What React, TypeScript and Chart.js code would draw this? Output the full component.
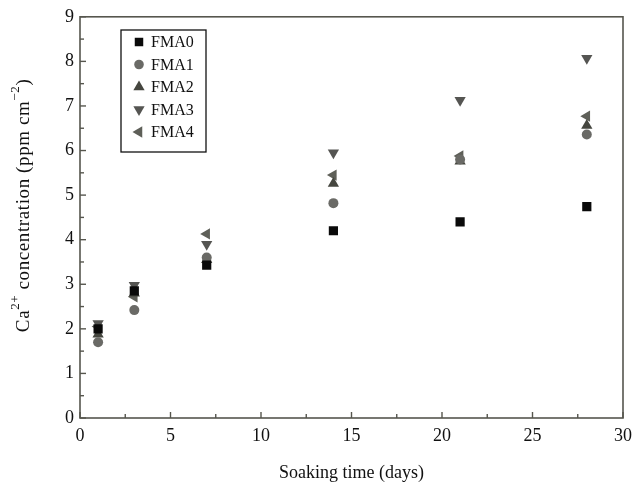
import React, { useEffect, useRef } from "react";
import { Chart, registerables } from "chart.js";

Chart.register(...registerables);

const days = [1, 3, 7, 14, 21, 28];
const fma0 = [2.0, 2.85, 3.43, 4.2, 4.4, 4.74];
const fma1 = [1.7, 2.42, 3.6, 4.82, 5.8, 6.36];
const fma2 = [1.88, 2.8, 3.55, 5.26, 5.76, 6.56];
const fma3 = [2.12, 2.98, 3.9, 5.95, 7.13, 8.07];
const fma4 = [2.05, 2.72, 4.13, 5.45, 5.88, 6.77];
const seriesNames = ["FMA0", "FMA1", "FMA2", "FMA3", "FMA4"];
const xTickValues = [0, 5, 10, 15, 20, 25, 30];
const yTickValues = [0, 1, 2, 3, 4, 5, 6, 7, 8, 9];
const xTitle = "Soaking time (days)";
const yTitleParts = [
  { t: "Ca", sup: false },
  { t: "2+", sup: true },
  { t: " concentration (ppm cm", sup: false },
  { t: "−2", sup: true },
  { t: ")", sup: false },
];

const FONT = "'Liberation Serif', 'DejaVu Serif', serif";
const FRAME = "#56564e";

function drawMarker(ctx: CanvasRenderingContext2D, style: string, rot: number, r: number, x: number, y: number) {
  ctx.save();
  ctx.translate(x, y);
  ctx.rotate((rot * Math.PI) / 180);
  ctx.beginPath();
  if (style === "rect") {
    const s = Math.SQRT1_2 * r;
    ctx.rect(-s, -s, 2 * s, 2 * s);
  } else if (style === "circle") {
    ctx.arc(0, 0, r, 0, Math.PI * 2);
  } else {
    ctx.moveTo(0, -r);
    ctx.lineTo(r * Math.cos(Math.PI / 6), r * 0.5);
    ctx.lineTo(-r * Math.cos(Math.PI / 6), r * 0.5);
    ctx.closePath();
  }
  ctx.fill();
  ctx.restore();
}

const frameAndTicks = {
  id: "frameAndTicks",
  afterDatasetsDraw(chart: any) {
    const { ctx, chartArea: a, scales } = chart;
    const x = scales.x;
    const y = scales.y;
    ctx.save();
    ctx.strokeStyle = FRAME;
    ctx.lineWidth = 1.6;
    ctx.strokeRect(a.left, a.top, a.right - a.left, a.bottom - a.top);
    ctx.lineWidth = 1.4;
    for (let v = 0; v <= 30; v += 2.5) {
      const px = x.getPixelForValue(v);
      const len = v % 5 === 0 ? 6 : 4;
      ctx.beginPath();
      ctx.moveTo(px, a.bottom);
      ctx.lineTo(px, a.bottom - len);
      ctx.stroke();
    }
    for (let v = 0; v <= 9; v += 0.5) {
      const py = y.getPixelForValue(v);
      const len = v % 1 === 0 ? 6 : 4;
      ctx.beginPath();
      ctx.moveTo(a.left, py);
      ctx.lineTo(a.left + len, py);
      ctx.stroke();
    }
    ctx.restore();
  },
};

const yTitlePlugin = {
  id: "yTitlePlugin",
  afterDraw(chart: any) {
    const { ctx, chartArea: a } = chart;
    const main = `19px ${FONT}`;
    const small = `13px ${FONT}`;
    ctx.save();
    (ctx as any).letterSpacing = "0.6px";
    let total = 0;
    const widths = yTitleParts.map((p) => {
      ctx.font = p.sup ? small : main;
      const w = ctx.measureText(p.t).width;
      total += w;
      return w;
    });
    const cy = (a.top + a.bottom) / 2 - 12;
    ctx.translate(24, cy);
    ctx.rotate(-Math.PI / 2);
    ctx.fillStyle = "#111";
    ctx.textBaseline = "middle";
    ctx.textAlign = "left";
    let xPos = -total / 2;
    yTitleParts.forEach((p, i) => {
      ctx.font = p.sup ? small : main;
      ctx.fillText(p.t, xPos, p.sup ? -8 : 0);
      xPos += widths[i];
    });
    ctx.restore();
  },
};

const legendBox = {
  id: "legendBox",
  afterDraw(chart: any) {
    const { ctx } = chart;
    const left = 121, top = 30, w = 85, h = 122;
    ctx.save();
    ctx.fillStyle = "#ffffff";
    ctx.fillRect(left, top, w, h);
    ctx.strokeStyle = "#111";
    ctx.lineWidth = 1.3;
    ctx.strokeRect(left, top, w, h);
    chart.data.datasets.forEach((ds: any, i: number) => {
      const cy = top + 12 + i * 22.5;
      const cx = left + 18;
      ctx.fillStyle = ds.backgroundColor;
      drawMarker(ctx, ds.pointStyle, ds.rotation || 0, ds.legendRadius, cx, cy);
      ctx.fillStyle = "#111";
      ctx.font = `16px ${FONT}`;
      ctx.textBaseline = "middle";
      ctx.textAlign = "left";
      ctx.fillText(ds.label, left + 30, cy + 1);
    });
    ctx.restore();
  },
};

export default function App() {
  const ref = useRef<HTMLCanvasElement | null>(null);
  useEffect(() => {
    if (!ref.current) return;
    const mk = (vals: number[]) => days.map((d, i) => ({ x: d, y: vals[i] }));
    const chart = new Chart(ref.current, {
      type: "scatter",
      data: {
        datasets: [
          { label: seriesNames[0], data: mk(fma0), pointStyle: "rect", pointRadius: 6.5, backgroundColor: "#0a0a0a", borderColor: "#0a0a0a", borderWidth: 0, rotation: 0, legendRadius: 6 } as any,
          { label: seriesNames[1], data: mk(fma1), pointStyle: "circle", pointRadius: 5, backgroundColor: "#6a6a66", borderColor: "#6a6a66", borderWidth: 0, rotation: 0, legendRadius: 4.8 } as any,
          { label: seriesNames[2], data: mk(fma2), pointStyle: "triangle", pointRadius: 6.5, backgroundColor: "#45463f", borderColor: "#45463f", borderWidth: 0, rotation: 0, legendRadius: 6.5 } as any,
          { label: seriesNames[3], data: mk(fma3), pointStyle: "triangle", pointRadius: 6.5, backgroundColor: "#555552", borderColor: "#555552", borderWidth: 0, rotation: 180, legendRadius: 6.5 } as any,
          { label: seriesNames[4], data: mk(fma4), pointStyle: "triangle", pointRadius: 6.5, backgroundColor: "#5e5f58", borderColor: "#5e5f58", borderWidth: 0, rotation: -90, legendRadius: 6.5 } as any,
        ],
      },
      options: {
        animation: false,
        responsive: false,
        maintainAspectRatio: false,
        layout: { padding: { left: 0, right: 12, top: 13, bottom: 0 } },
        plugins: { legend: { display: false }, tooltip: { enabled: false } },
        scales: {
          x: {
            type: "linear",
            min: 0,
            max: 30,
            afterFit: (s: any) => { s.height = 70; },
            afterBuildTicks: (s: any) => { s.ticks = xTickValues.map((v) => ({ value: v })); },
            grid: { display: false, drawTicks: false },
            border: { display: false },
            ticks: { color: "#111", font: { family: FONT, size: 18 }, padding: 7, maxRotation: 0 },
            title: { display: true, text: xTitle, color: "#111", font: { family: FONT, size: 18 }, padding: { top: 3 } },
          },
          y: {
            type: "linear",
            min: 0,
            max: 9,
            afterFit: (s: any) => { s.width = 80; },
            afterBuildTicks: (s: any) => { s.ticks = yTickValues.map((v) => ({ value: v })); },
            grid: { display: false, drawTicks: false },
            border: { display: false },
            ticks: { color: "#111", font: { family: FONT, size: 18 }, padding: 6 },
            title: { display: false },
          },
        },
      } as any,
      plugins: [frameAndTicks, legendBox, yTitlePlugin],
    });
    return () => chart.destroy();
  }, []);
  return (
    <div style={{ position: "fixed", left: 0, top: 0, width: 639, height: 488, background: "#fff" }}>
      <canvas ref={ref} width={639} height={488} style={{ width: 639, height: 488 }} />
    </div>
  );
}
